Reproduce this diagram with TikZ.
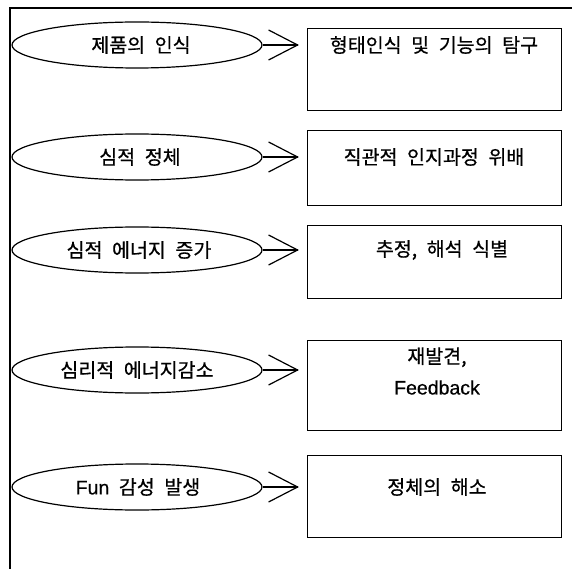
\documentclass[tikz,border=0pt]{standalone}
\usepackage{fontspec}
\setmainfont{Noto Sans CJK KR}[WordSpace=2.2,FakeBold=0.6]
\newfontfamily\latfont{Liberation Sans}[FakeBold=0.6]
\usetikzlibrary{shapes.geometric}
\begin{document}
\begin{tikzpicture}[x=1pt,y=-1pt,
  oval/.style={draw,ellipse,line width=1.2pt,minimum width=250pt,minimum height=46pt,inner sep=0pt},
  stepbox/.style={draw,line width=1.3pt,minimum width=254pt,inner sep=0pt,anchor=north west},
  lbl/.style={font=\fontsize{19.5}{31}\selectfont},
  chev/.style={line width=1.2pt}]
\useasboundingbox (0,0) rectangle (572,569);
\draw[line width=1.2pt] (10,569) -- (10,8) -- (572,8);
% ellipses
\node[oval] (e1) at (137,45) {};
\node[oval] (e2) at (137,157) {};
\node[oval] (e3) at (137,250) {};
\node[oval] (e4) at (137,370) {};
\node[oval] (e5) at (137,487) {};
\node[lbl] (t1) at (141,45) {제품의 인식};
\node[lbl] (t2) at (140,157) {심적 정체};
\node[lbl] (t3) at (139,250) {심적 에너지 증가};
\node[lbl] (t4) at (137,370) {심리적 에너지감소};
\node[lbl] (t5) at (138,487) {{\latfont Fun} 감성 발생};
% boxes
\node[stepbox,minimum height=82pt] (b1) at (307,28) {};
\node[stepbox,minimum height=75pt] (b2) at (307,130) {};
\node[stepbox,minimum height=73pt] (b3) at (307,225) {};
\node[stepbox,minimum height=90pt] (b4) at (307,340) {};
\node[stepbox,minimum height=82pt] (b5) at (307,455) {};
\node[lbl] (s1) at (434,45) {형태인식 및 기능의 탐구};
\node[lbl] (s2) at (434,157) {직관적 인지과정 위배};
\node[lbl] (s3) at (442,250) {추정, 해석 식별};
\node[lbl,align=center] (s4) at (437,371) {재발견,\\{\latfont Feedback}};
\node[lbl] (s5) at (437,487) {정체의 해소};
% chevrons
\foreach \i in {1,...,5}{
  \coordinate (tip\i) at ([xshift=35pt]e\i.east);
  \draw[chev] (e\i.east) -- (tip\i);
  \draw[chev] ([xshift=6pt,yshift=-15pt]e\i.east) -- (tip\i) -- ([xshift=6pt,yshift=15pt]e\i.east);
}
\end{tikzpicture}
\end{document}
